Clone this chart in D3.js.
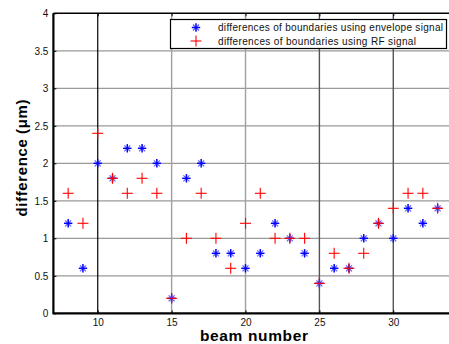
<!DOCTYPE html>
<html><head><meta charset="utf-8">
<script src="https://cdn.jsdelivr.net/npm/d3@7"></script>
<style>body{margin:0;background:#fff}svg{display:block}</style>
</head><body>
<script>
const beams = [8,9,10,11,12,13,14,15,16,17,18,19,20,21,22,23,24,25,26,27,28,29,30,31,32,33];
const envelopeVals = [1.2,0.6,2.0,1.8,2.2,2.2,2.0,0.2,1.8,2.0,0.8,0.8,0.6,0.8,1.2,1.0,0.8,0.4,0.6,0.6,1.0,1.2,1.0,1.4,1.2,1.4];
const rfVals = [1.6,1.2,2.4,1.8,1.6,1.8,1.6,0.2,1.0,1.6,1.0,0.6,1.2,1.6,1.0,1.0,1.0,0.4,0.8,0.6,0.8,1.2,1.4,1.6,1.6,1.4];
const xTicks = [10,15,20,25,30];
const yTicks = [0,0.5,1,1.5,2,2.5,3,3.5,4];
const seriesNames = ["differences of boundaries using envelope signal","differences of boundaries using RF signal"];

const W=449,H=344;
const svg=d3.select("body").append("svg").attr("width",W).attr("height",H);
svg.append("rect").attr("width",W).attr("height",H).attr("fill","#fff");
const x=d3.scaleLinear().domain([7,34]).range([53.4,452.4]);
const y=d3.scaleLinear().domain([0,4]).range([313.3,13.3]);

// grid
const g=svg.append("g");
g.selectAll(".hg").data(yTicks.filter(d=>d>0&&d<4)).join("line")
 .attr("x1",x(7)).attr("x2",x(34)).attr("y1",d=>y(d)).attr("y2",d=>y(d))
 .attr("stroke","#9a9a9a").attr("stroke-width",1.2);
g.selectAll(".vg").data(xTicks).join("line")
 .attr("x1",d=>x(d)).attr("x2",d=>x(d)).attr("y1",y(0)).attr("y2",y(4))
 .attr("stroke",(d,i)=>i===0?"#000":(d===15||d===20?"#a0a0a0":"#555")).attr("stroke-width",(d,i)=>i===0?1.2:1.4);

// axes
const fontT="Arial, 'Liberation Sans', sans-serif";
const xa=d3.axisBottom(x).tickValues(xTicks).tickSize(-3).tickPadding(6).tickFormat(d3.format("d"));
const xg=svg.append("g").attr("transform",`translate(0,${y(0)})`).call(xa);
const ya=d3.axisLeft(y).tickValues(yTicks).tickSize(-3).tickPadding(5).tickFormat(d=>d);
const yg=svg.append("g").attr("transform",`translate(${x(7)},0)`).call(ya);
const xt=d3.axisTop(x).tickValues(xTicks).tickSize(-3).tickFormat("");
const xtg=svg.append("g").attr("transform",`translate(0,${y(4)})`).call(xt);
[xg,yg,xtg].forEach(a=>{a.select(".domain").remove();a.selectAll("line").attr("stroke","#000");
 a.selectAll("text").attr("fill","#111").style("font-family",fontT).style("font-size","10px");});
svg.append("line").attr("x1",x(7)).attr("x2",x(34)).attr("y1",y(0)).attr("y2",y(0)).attr("stroke","#000").attr("stroke-width",2.2);
svg.append("line").attr("x1",x(7)).attr("x2",x(7)).attr("y1",y(0)+1).attr("y2",y(4)).attr("stroke","#000").attr("stroke-width",2.2);
svg.append("line").attr("x1",x(7)).attr("x2",x(34)).attr("y1",y(4)).attr("y2",y(4)).attr("stroke","#000").attr("stroke-width",1.6);

// markers
function star(sel,cx,cy){
  const s=4.2,d=3;
  const gg=sel.append("g").attr("stroke","#0000ff").attr("stroke-width",1.5);
  gg.append("line").attr("x1",cx-d).attr("x2",cx+d).attr("y1",cy-d).attr("y2",cy+d).attr("stroke","#6060ff").attr("stroke-width",1.2);
  gg.append("line").attr("x1",cx-d).attr("x2",cx+d).attr("y1",cy+d).attr("y2",cy-d).attr("stroke","#6060ff").attr("stroke-width",1.2);
  gg.append("line").attr("x1",cx-s).attr("x2",cx+s).attr("y1",cy).attr("y2",cy);
  gg.append("line").attr("x1",cx).attr("x2",cx).attr("y1",cy-s).attr("y2",cy+s);
}
function plus(sel,cx,cy){
  const s=5.5;
  const gg=sel.append("g").attr("stroke","#ff0000").attr("stroke-width",1.1);
  gg.append("line").attr("x1",cx-s).attr("x2",cx+s).attr("y1",cy).attr("y2",cy);
  gg.append("line").attr("x1",cx).attr("x2",cx).attr("y1",cy-s).attr("y2",cy+s);
}
const mk=svg.append("g");
beams.forEach((b,i)=>star(mk,x(b),y(envelopeVals[i])));
beams.forEach((b,i)=>plus(mk,x(b),y(rfVals[i])));

// legend
const lg=svg.append("g");
lg.append("rect").attr("x",170.5).attr("y",19.5).attr("width",276).attr("height",29).attr("fill","#fff").attr("stroke","#000").attr("stroke-width",1.2);
star(lg,196,27.5); plus(lg,196,41);
const legLens=[225,198];
lg.selectAll("text").data(seriesNames).join("text").attr("x",218).attr("y",(d,i)=>31+i*13.5)
 .attr("textLength",(d,i)=>legLens[i]).attr("lengthAdjust","spacing")
 .text(d=>d).style("font-family",fontT).style("font-size","10px").attr("fill","#111");

// labels
svg.append("text").attr("x",254).attr("y",341).attr("text-anchor","middle")
 .attr("textLength",108).attr("lengthAdjust","spacing")
 .style("font-family",fontT).style("font-size","15.5px").style("font-weight","bold").text("beam number");
svg.append("text").attr("transform","translate(27,158) rotate(-90)").attr("text-anchor","middle")
 .attr("textLength",117).attr("lengthAdjust","spacing")
 .style("font-family",fontT).style("font-size","15px").style("font-weight","bold").text("difference (μm)");
</script>
</body></html>
